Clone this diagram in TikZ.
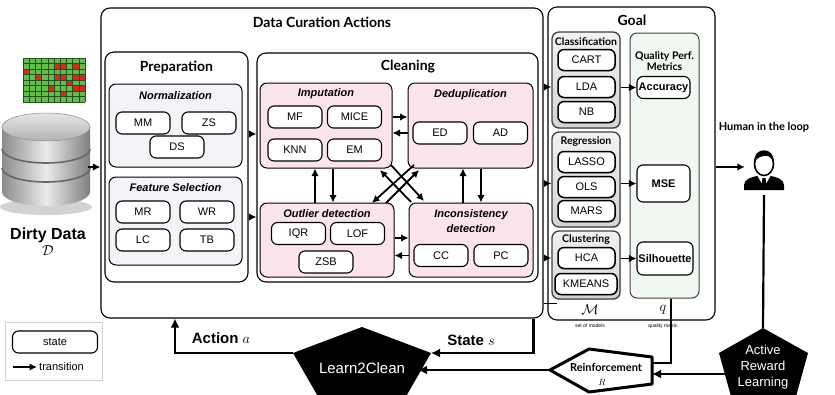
\documentclass[tikz,border=0pt]{standalone}
\usepackage{fontspec}
\setmainfont{Liberation Sans}
\newfontfamily\gill{Lato}
\usetikzlibrary{arrows.meta,shadows}

\definecolor{cleanpink}{RGB}{252,229,234}
\definecolor{preppale}{RGB}{242,244,248}
\definecolor{metricgreen}{RGB}{240,248,241}
\definecolor{cellgreen}{RGB}{98,190,72}
\definecolor{cellred}{RGB}{214,40,30}
\definecolor{cellline}{RGB}{35,80,30}

\begin{document}
\begin{tikzpicture}[x=1pt,y=-1pt,
  curbox/.style={draw,rounded corners=9pt,line width=1.1pt,inner sep=0pt},
  subbox/.style={draw,rounded corners=7pt,line width=1pt,inner sep=0pt},
  opnode/.style={draw,fill=white,rounded corners=6pt,line width=1.1pt,inner sep=0pt,minimum width=54pt,minimum height=22pt,font=\fontsize{11}{13}\selectfont},
  modgroup/.style={draw=black!75,rounded corners=7pt,line width=1.3pt,inner sep=0pt,top color=black!5,bottom color=black!17,drop shadow={opacity=0.3,shadow xshift=1.2pt,shadow yshift=-1.2pt}},
  modnode/.style={opnode,minimum width=57pt,minimum height=21pt,line width=1.5pt,drop shadow={opacity=0.4,shadow xshift=1pt,shadow yshift=-1pt}},
  metnode/.style={opnode,minimum width=53pt,font=\bfseries\fontsize{11}{13}\selectfont},
  paneltitle/.style={font=\gill\bfseries\fontsize{14}{16}\selectfont},
  grouptitle/.style={font=\gill\bfseries\fontsize{10.5}{11}\selectfont,align=center},
  sublabel/.style={font=\bfseries\itshape\fontsize{11}{13}\selectfont,align=center},
  flow/.style={-{Latex[length=7.5pt,width=7.5pt]},line width=1.8pt},
  feedback/.style={-{Latex[length=9pt,width=9pt]},line width=2.2pt},
]
\fill[white] (0,0) rectangle (835,394);
\useasboundingbox (0,0) rectangle (835,394);

\fill[cellgreen] (23,58) rectangle (85,102);
\foreach \c/\r in {5/1,6/1,8/1,0/2,2/3,5/3,6/3,8/3,9/3,7/4,4/5,8/5,9/5,6/6}
  \fill[cellred] (23+\c*6.2,58+\r*5.5) rectangle ++(6.2,5.5);
\foreach \c in {0,...,10}
  \draw[cellline,line width=0.4pt] (23+\c*6.2,58) -- ++(0,44);
\foreach \r in {0,...,8}
  \draw[cellline,line width=0.4pt] (23,58+\r*5.5) -- ++(62,0);

\fill[black!35,opacity=0.5] (46,207) ellipse [x radius=46pt,y radius=8pt];
\shade[left color=black!45,right color=black!50,middle color=black!8] (2,127) -- (2,192) arc[start angle=180,end angle=360,x radius=44pt,y radius=14pt] -- (90,127) -- cycle;
\draw[black!60,line width=1.6pt] (2,149) arc[start angle=180,end angle=360,x radius=44pt,y radius=14pt];
\draw[black!60,line width=1.6pt] (2,168) arc[start angle=180,end angle=360,x radius=44pt,y radius=14pt];
\shade[top color=black!10,bottom color=black!30,draw=black!45,line width=0.5pt] (46,127) ellipse [x radius=44pt,y radius=14pt];
\node[minimum width=84pt,minimum height=90pt,inner sep=0pt] (db) at (46,167) {};
\node[font=\bfseries\fontsize{16}{18}\selectfont] (dirty) at (48,235) {Dirty Data};
\node[font=\fontsize{14}{16}\selectfont] (dsym) at (48,251) {$\mathcal{D}$};

\node[draw=black!18,line width=0.8pt,minimum width=97pt,minimum height=58pt,inner sep=0pt] (legend) at (53.5,351) {};
\node[opnode,minimum width=85pt] (legstate) at (55,342) {state};
\coordinate (lega) at (13,367);
\coordinate (legb) at (37,367);
\draw[flow] (lega) -- (legb);
\node[right,inner sep=2pt,font=\fontsize{11}{13}\selectfont] (legtxt) at (legb) {transition};

\node[curbox,minimum width=442pt,minimum height=310pt] (dca) at (322,163) {};
\node[paneltitle] (dcatitle) at (322,22) {Data Curation Actions};

\node[curbox,minimum width=143pt,minimum height=230pt] (prep) at (176.5,167) {};
\node[paneltitle] (preptitle) at (176.5,67) {Preparation};
\node[subbox,fill=preppale,minimum width=133pt,minimum height=83pt] (norm) at (175.5,125.5) {};
\node[sublabel] (normlbl) at (175.5,96) {Normalization};
\node[opnode] (mm) at (143,123) {MM};
\node[opnode] (zs) at (209,123) {ZS};
\node[opnode] (ds) at (177,147) {DS};
\node[subbox,fill=preppale,minimum width=133pt,minimum height=88pt] (feat) at (175.5,221) {};
\node[sublabel] (featlbl) at (175.5,188) {Feature Selection};
\node[opnode] (mr) at (143,212) {MR};
\node[opnode] (wr) at (207,212) {WR};
\node[opnode] (lc) at (143,240) {LC};
\node[opnode] (tb) at (207,240) {TB};

\node[curbox,minimum width=281pt,minimum height=229pt] (clean) at (397.5,167.5) {};
\node[paneltitle] (cleantitle) at (408,67) {Cleaning};
\node[subbox,fill=cleanpink,minimum width=132pt,minimum height=85pt] (imput) at (326,125.5) {};
\node[sublabel] (imputlbl) at (326,94) {Imputation};
\node[opnode] (mf) at (295,117) {MF};
\node[opnode] (mice) at (354.5,117) {MICE};
\node[opnode] (knn) at (295,150) {KNN};
\node[opnode] (em) at (354.5,150) {EM};
\node[subbox,fill=cleanpink,minimum width=125pt,minimum height=85pt] (dedup) at (470.5,125.5) {};
\node[sublabel] (deduplbl) at (470.5,95) {Deduplication};
\node[opnode] (ed) at (440,133) {ED};
\node[opnode] (ad) at (500.5,133) {AD};
\node[subbox,fill=cleanpink,minimum width=134pt,minimum height=74pt] (outl) at (327,240) {};
\node[sublabel] (outllbl) at (327,214) {Outlier detection};
\node[opnode] (iqr) at (298.5,233.5) {IQR};
\node[opnode] (lof) at (357.5,233.5) {LOF};
\node[opnode] (zsb) at (326,262) {ZSB};
\node[subbox,fill=cleanpink,minimum width=124pt,minimum height=74pt] (incons) at (471,240) {};
\node[sublabel,font=\bfseries\itshape\fontsize{11}{15}\selectfont] (inconslbl) at (471,221.5) {Inconsistency\\detection};
\node[opnode] (cc) at (441,255.5) {CC};
\node[opnode] (pc) at (501,255.5) {PC};

\node[curbox,minimum width=167pt,minimum height=313pt] (goal) at (631.5,163.5) {};
\node[paneltitle] (goaltitle) at (632,20) {Goal};
\node[modgroup,minimum width=68pt,minimum height=96pt] (cls) at (586,80) {};
\node[grouptitle] (clslbl) at (586,42) {Classification};
\node[modnode] (cart) at (586.5,60) {CART};
\node[modnode] (lda) at (586.5,87) {LDA};
\node[modnode] (nb) at (586.5,112) {NB};
\node[modgroup,minimum width=68pt,minimum height=95pt] (reg) at (586,179.5) {};
\node[grouptitle] (reglbl) at (586,142) {Regression};
\node[modnode] (lasso) at (586.5,162) {LASSO};
\node[modnode] (ols) at (586.5,187) {OLS};
\node[modnode] (mars) at (586.5,211) {MARS};
\node[modgroup,minimum width=68pt,minimum height=68pt] (clu) at (586,265) {};
\node[grouptitle] (clulbl) at (586,240) {Clustering};
\node[modnode] (hca) at (586.5,258) {HCA};
\node[modnode,minimum width=62pt] (kmeans) at (586,284) {KMEANS};
\node[font=\fontsize{14}{16}\selectfont] (msym) at (590,310) {$\mathcal{M}$};
\node[font=\fontsize{5}{6}\selectfont] (mtxt) at (590,326) {set of models};

\node[subbox,fill=metricgreen,draw=black!75,minimum width=69pt,minimum height=265pt] (metrics) at (664.5,165.5) {};
\node[grouptitle] (metlbl) at (664.5,61.5) {Quality Perf.\\Metrics};
\node[metnode] (acc) at (663.5,87.5) {Accuracy};
\node[metnode,minimum height=37pt] (mse) at (663.5,183.5) {MSE};
\node[metnode,minimum width=56pt,minimum height=33pt] (sil) at (665,258.5) {Silhouette};
\node[font=\fontsize{14}{16}\selectfont] (qsym) at (663,310) {$q$};
\node[font=\fontsize{5}{6}\selectfont] (qtxt) at (663,326) {quality metric};

\node[font=\gill\bfseries\fontsize{11}{13}\selectfont] (humanlbl) at (764,127) {Human in the loop};
\node[minimum width=38pt,minimum height=56pt,inner sep=0pt] (human) at (764,167) {};
\fill (744,190) -- (744,185) .. controls (744,179) and (752,177) .. (757,176) -- (771,176) .. controls (776,177) and (784,179) .. (784,185) -- (784,190) -- cycle;
\fill[white] (757.5,176) -- (764,187) -- (770.5,176) -- cycle;
\fill (762.5,178) -- (765.5,178) -- (766.5,185) -- (764,188) -- (761.5,185) -- cycle;
\filldraw[fill=white,draw=black,line width=1.6pt] (764,164) ellipse [x radius=9.5pt,y radius=11.5pt];
\fill (754.5,163) .. controls (752,146) and (776,146) .. (773.5,163) .. controls (772,156) and (766,154) .. (760,157) .. controls (757,158) and (755.5,160) .. (754.5,163) -- cycle;

\coordinate (l2ctop) at (362,327);
\coordinate (l2cne) at (431,353);
\coordinate (l2cnw) at (293,353);
\coordinate (l2ce) at (418,370);
\fill (l2ctop) -- (l2cne) -- (404,400) -- (320,400) -- (l2cnw) -- cycle;
\node[text=white,font=\fontsize{15}{17}\selectfont] (learn) at (362,368) {Learn2Clean};

\coordinate (rltip) at (550,370);
\coordinate (rlne) at (652,363);
\coordinate (rle) at (652,374);
\draw[line width=3pt,line join=round,fill=white] (rltip) -- (589,349) -- (652,357) -- (652,384) -- (589,392) -- cycle;
\node[font=\gill\bfseries\fontsize{11}{13}\selectfont] (reinf) at (606,367) {Reinforcement};
\node[font=\fontsize{9}{10}\selectfont] (rsym) at (602,382) {$R$};

\coordinate (arltop) at (763,328);
\coordinate (arlw) at (726,374);
\fill (arltop) -- (808,353) -- (795,400) -- (732,400) -- (719,353) -- cycle;
\node[text=white,align=center,font=\fontsize{13}{16}\selectfont] (arl) at (763,367) {Active\\Reward\\Learning};

\node[font=\bfseries\fontsize{15}{17}\selectfont] (actlbl) at (221,338) {Action $a$};
\node[font=\bfseries\fontsize{15}{17}\selectfont] (statelbl) at (471,340) {State $s$};

\coordinate (rail1) at (0,134);
\coordinate (rail2) at (0,217);
\coordinate (rail3) at (0,238);
\coordinate (rail4) at (0,303);
\coordinate (cola) at (315,0);
\coordinate (colb) at (333,0);
\coordinate (colc) at (463,0);
\coordinate (cold) at (481,0);
\coordinate (cole) at (175,0);

\draw[flow] (db.east) -- (db.east -| dca.west);
\draw[flow] (prep.east |- rail1) -- (clean.west |- rail1);
\draw[flow] (prep.east |- rail2) -- (clean.west |- rail2);

\draw[flow] (imput.east |- mice) -- (dedup.west |- mice);
\draw[flow] (dedup.west |- ed) -- (imput.east |- ed);
\draw[flow] (outl.east |- rail3) -- (incons.west |- rail3);
\draw[flow] (incons.west |- cc) -- (outl.east |- cc);
\draw[flow] (outl.north -| cola) -- (imput.south -| cola);
\draw[flow] (imput.south -| colb) -- (outl.north -| colb);
\draw[flow] (incons.north -| colc) -- (dedup.south -| colc);
\draw[flow] (dedup.south -| cold) -- (incons.north -| cold);

\coordinate (xa1) at (411,202);
\coordinate (xa2) at (380,170);
\coordinate (xb1) at (391,165);
\coordinate (xb2) at (424,201);
\coordinate (xc1) at (414,165);
\coordinate (xc2) at (372,203);
\coordinate (xd1) at (386,203);
\coordinate (xd2) at (419,170);
\draw[flow] (xa1) -- (xa2);
\draw[flow] (xb1) -- (xb2);
\draw[flow] (xc1) -- (xc2);
\draw[flow] (xd1) -- (xd2);

\draw[flow] (dca.east |- lda) -- (cls.west |- lda);
\draw[flow] (dca.east |- mse) -- (reg.west |- mse);
\draw[flow] (dca.east |- hca) -- (clu.west |- hca);
\draw[line width=1pt] (dca.east |- rail4) -- ++(13,0);

\draw[flow] (cls.east |- acc) -- (acc.west);
\draw[flow] (reg.east |- mse) -- (mse.west);
\draw[flow] (clu.east |- sil) -- (sil.west);

\draw[flow] (goal.east |- human) -- (human.west);
\draw[line width=2.2pt] (human.south) -- (arltop);

\draw[feedback] ([xshift=-10pt]dca.south east) |- (l2cne);
\draw[feedback] (l2cnw) -| (dca.south -| cole);
\draw[feedback] (rltip) -- (l2ce);
\draw[line width=2.2pt] ([xshift=6.5pt]metrics.south) |- (rlne);
\draw[feedback] (arlw) -- (rle);
\end{tikzpicture}
\end{document}
